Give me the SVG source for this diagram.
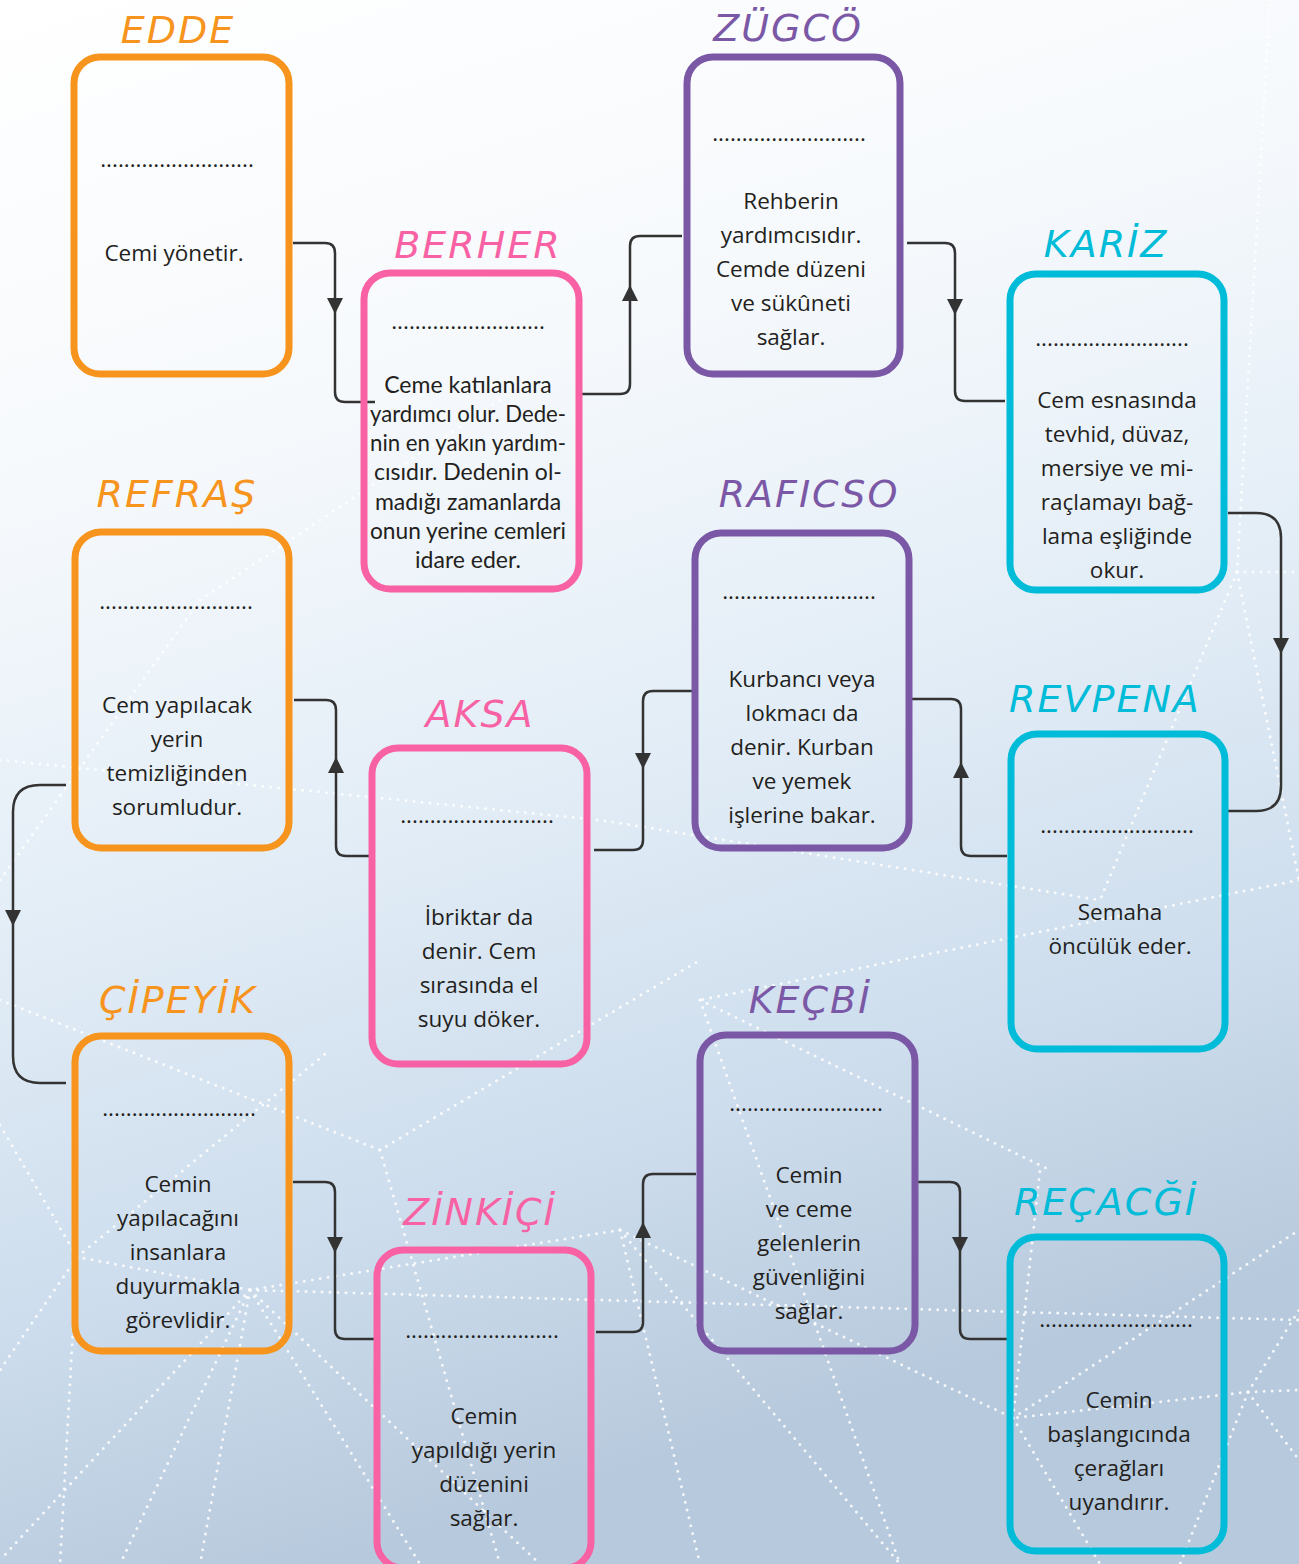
<svg xmlns="http://www.w3.org/2000/svg" xmlns:xlink="http://www.w3.org/1999/xlink" width="1299" height="1564" viewBox="0 0 1299 1564">
<defs>
<linearGradient id="bg" x1="0" y1="0" x2="0.25" y2="1">
<stop offset="0" stop-color="#ffffff"/>
<stop offset="0.3" stop-color="#f6f9fc"/>
<stop offset="0.55" stop-color="#e4eef7"/>
<stop offset="0.8" stop-color="#cddded"/>
<stop offset="1" stop-color="#b7c9dc"/>
</linearGradient>
<path id="ad" d="M-8,-16 L8,-16 L0,0 Z"/>
<style>
.box{fill:none;stroke-width:7;}
.o{stroke:#f7941d;} .p{stroke:#f862a4;} .v{stroke:#7b58a6;} .c{stroke:#00bcd8;}
.to{fill:#f7941d;} .tp{fill:#f862a4;} .tv{fill:#7b58a6;} .tc{fill:#00bcd8;}
.title{font-family:"DejaVu Sans",sans-serif;font-style:oblique;font-size:38px;text-anchor:middle;letter-spacing:2px;}
.t{font-family:"Open Sans","Liberation Sans",sans-serif;font-size:22.5px;fill:#231f20;text-anchor:middle;}
.n{font-family:Lato,"Liberation Sans",sans-serif;font-size:23px;fill:#231f20;text-anchor:middle;}
.dots{font-family:"Open Sans","Liberation Sans",sans-serif;font-size:22.5px;fill:#231f20;text-anchor:middle;}
.con{fill:none;stroke:#333333;stroke-width:2.5;}
.ah{fill:#333333;}
.net{fill:none;stroke:#ffffff;stroke-width:3;stroke-dasharray:0 8;stroke-linecap:round;opacity:0.85;}
</style>
</defs>
<rect x="0" y="0" width="1299" height="1564" fill="url(#bg)"/>
<g id="network">
<path class="net" d="M0,1125 L77,1257 L250,1290 L620,1230 L1013,1418 L1248,1392 L1299,1390"/>
<path class="net" d="M77,1257 L0,1370"/>
<path class="net" d="M77,1257 L60,1564"/>
<path class="net" d="M77,1257 L330,1050"/>
<path class="net" d="M250,1290 L200,1564"/>
<path class="net" d="M250,1290 L120,1564"/>
<path class="net" d="M250,1290 L420,1564"/>
<path class="net" d="M250,1290 L540,1564"/>
<path class="net" d="M250,1290 L0,1560"/>
<path class="net" d="M250,1290 L1299,1320"/>
<path class="net" d="M1013,1418 L1299,1230"/>
<path class="net" d="M1013,1418 L1040,1170"/>
<path class="net" d="M1013,1418 L1100,1564"/>
<path class="net" d="M1248,1392 L1299,1460"/>
<path class="net" d="M1248,1392 L1180,1564"/>
<path class="net" d="M1248,1392 L1299,1310"/>
<path class="net" d="M620,1230 L700,1564"/>
<path class="net" d="M620,1230 L900,1564"/>
<path class="net" d="M0,1000 L380,1150 L700,960"/>
<path class="net" d="M380,1150 L500,1564"/>
<path class="net" d="M0,880 L200,600 L500,400"/>
<path class="net" d="M1237,572 L1299,572"/>
<path class="net" d="M1237,572 L1270,0"/>
<path class="net" d="M1237,572 L1299,880"/>
<path class="net" d="M1237,572 L1100,900"/>
<path class="net" d="M1299,880 L700,1000"/>
<path class="net" d="M700,1000 L900,1564"/>
<path class="net" d="M700,1000 L1050,1170"/>
<path class="net" d="M0,760 L600,820 L1100,900"/>
</g>
<g id="connectors">
<path class="con" d="M293,243 H325 Q335,243 335,253 V392 Q335,402 345,402 H375"/>
<use href="#ad" class="ah" transform="translate(335,314)"/>
<path class="con" d="M582,394 H620 Q630,394 630,384 V246 Q630,236 640,236 H682"/>
<use href="#ad" class="ah" transform="translate(630,285) rotate(180)"/>
<path class="con" d="M907,243 H945 Q955,243 955,253 V391 Q955,401 965,401 H1005"/>
<use href="#ad" class="ah" transform="translate(955,315)"/>
<path class="con" d="M1228,513 H1256 Q1281,513 1281,538 V786 Q1281,811 1256,811 H1228"/>
<use href="#ad" class="ah" transform="translate(1281,654)"/>
<path class="con" d="M912,699 H951 Q961,699 961,709 V846 Q961,856 971,856 H1007"/>
<use href="#ad" class="ah" transform="translate(961,762) rotate(180)"/>
<path class="con" d="M697,691 H653 Q643,691 643,701 V840 Q643,850 633,850 H594"/>
<use href="#ad" class="ah" transform="translate(643,769)"/>
<path class="con" d="M375,856 H346 Q336,856 336,846 V710 Q336,700 326,700 H294"/>
<use href="#ad" class="ah" transform="translate(336,757) rotate(180)"/>
<path class="con" d="M66,785 H40 Q13,785 13,812 V1056 Q13,1083 40,1083 H66"/>
<use href="#ad" class="ah" transform="translate(13,926)"/>
<path class="con" d="M293,1182 H325 Q335,1182 335,1192 V1329 Q335,1339 345,1339 H377"/>
<use href="#ad" class="ah" transform="translate(335,1253)"/>
<path class="con" d="M596,1332 H633 Q643,1332 643,1322 V1184 Q643,1174 653,1174 H696"/>
<use href="#ad" class="ah" transform="translate(643,1222) rotate(180)"/>
<path class="con" d="M912,1182 H950 Q960,1182 960,1192 V1329 Q960,1339 970,1339 H1007"/>
<use href="#ad" class="ah" transform="translate(960,1253)"/>
</g>
<g id="edde">
<text class="title to" x="178" y="43">EDDE</text>
<rect class="box o" x="74" y="57" width="215" height="317" rx="26"/>
<text class="dots" x="177" y="167">..........................</text>
<text class="t" x="174" y="261">Cemi yönetir.</text>
</g>
<g id="berher">
<text class="title tp" x="478" y="258">BERHER</text>
<rect class="box p" x="364" y="273" width="215" height="316" rx="26"/>
<text class="dots" x="468" y="329">..........................</text>
<text class="n"><tspan x="468" y="393">Ceme katılanlara</tspan><tspan x="468" y="422" textLength="196" lengthAdjust="spacingAndGlyphs">yardımcı olur. Dede-</tspan><tspan x="468" y="451" textLength="196" lengthAdjust="spacingAndGlyphs">nin en yakın yardım-</tspan><tspan x="468" y="480">cısıdır. Dedenin ol-</tspan><tspan x="468" y="510">madığı zamanlarda</tspan><tspan x="468" y="539" textLength="196" lengthAdjust="spacingAndGlyphs">onun yerine cemleri</tspan><tspan x="468" y="568">idare eder.</tspan></text>
</g>
<g id="zugco">
<text class="title tv" x="788" y="41">ZÜGCÖ</text>
<rect class="box v" x="687" y="57" width="213" height="317" rx="26"/>
<text class="dots" x="789" y="141">..........................</text>
<text class="t"><tspan x="791" y="209">Rehberin</tspan><tspan x="791" y="243">yardımcısıdır.</tspan><tspan x="791" y="277">Cemde düzeni</tspan><tspan x="791" y="311">ve sükûneti</tspan><tspan x="791" y="345">sağlar.</tspan></text>
</g>
<g id="kariz">
<text class="title tc" x="1106" y="257">KARİZ</text>
<rect class="box c" x="1010" y="274" width="214" height="316" rx="26"/>
<text class="dots" x="1112" y="346">..........................</text>
<text class="t"><tspan x="1117" y="408">Cem esnasında</tspan><tspan x="1117" y="442">tevhid, düvaz,</tspan><tspan x="1117" y="476">mersiye ve mi-</tspan><tspan x="1117" y="510">raçlamayı bağ-</tspan><tspan x="1117" y="544">lama eşliğinde</tspan><tspan x="1117" y="578">okur.</tspan></text>
</g>
<g id="refras">
<text class="title to" x="177" y="507">REFRAŞ</text>
<rect class="box o" x="75" y="532" width="214" height="316" rx="26"/>
<text class="dots" x="176" y="609">..........................</text>
<text class="t"><tspan x="177" y="713">Cem yapılacak</tspan><tspan x="177" y="747">yerin</tspan><tspan x="177" y="781">temizliğinden</tspan><tspan x="177" y="815">sorumludur.</tspan></text>
</g>
<g id="aksa">
<text class="title tp" x="480" y="727">AKSA</text>
<rect class="box p" x="372" y="748" width="215" height="316" rx="26"/>
<text class="dots" x="477" y="823">..........................</text>
<text class="t"><tspan x="479" y="925">İbriktar da</tspan><tspan x="479" y="959">denir. Cem</tspan><tspan x="479" y="993">sırasında el</tspan><tspan x="479" y="1027">suyu döker.</tspan></text>
</g>
<g id="raficso">
<text class="title tv" x="809" y="507">RAFICSO</text>
<rect class="box v" x="695" y="533" width="214" height="315" rx="26"/>
<text class="dots" x="799" y="599">..........................</text>
<text class="t"><tspan x="802" y="687">Kurbancı veya</tspan><tspan x="802" y="721">lokmacı da</tspan><tspan x="802" y="755">denir. Kurban</tspan><tspan x="802" y="789">ve yemek</tspan><tspan x="802" y="823">işlerine bakar.</tspan></text>
</g>
<g id="revpena">
<text class="title tc" x="1105" y="712">REVPENA</text>
<rect class="box c" x="1011" y="734" width="214" height="315" rx="26"/>
<text class="dots" x="1117" y="833">..........................</text>
<text class="t"><tspan x="1120" y="920">Semaha</tspan><tspan x="1120" y="954">öncülük eder.</tspan></text>
</g>
<g id="cipeyik">
<text class="title to" x="178" y="1013">ÇİPEYİK</text>
<rect class="box o" x="75" y="1036" width="214" height="315" rx="26"/>
<text class="dots" x="179" y="1116">..........................</text>
<text class="t"><tspan x="178" y="1192">Cemin</tspan><tspan x="178" y="1226">yapılacağını</tspan><tspan x="178" y="1260">insanlara</tspan><tspan x="178" y="1294">duyurmakla</tspan><tspan x="178" y="1328">görevlidir.</tspan></text>
</g>
<g id="zinkici">
<text class="title tp" x="480" y="1225">ZİNKİÇİ</text>
<rect class="box p" x="377" y="1250" width="214" height="318" rx="26"/>
<text class="dots" x="482" y="1338">..........................</text>
<text class="t"><tspan x="484" y="1424">Cemin</tspan><tspan x="484" y="1458">yapıldığı yerin</tspan><tspan x="484" y="1492">düzenini</tspan><tspan x="484" y="1526">sağlar.</tspan></text>
</g>
<g id="kecbi">
<text class="title tv" x="810" y="1013">KEÇBİ</text>
<rect class="box v" x="700" y="1035" width="215" height="316" rx="26"/>
<text class="dots" x="806" y="1111">..........................</text>
<text class="t"><tspan x="809" y="1183">Cemin</tspan><tspan x="809" y="1217">ve ceme</tspan><tspan x="809" y="1251">gelenlerin</tspan><tspan x="809" y="1285">güvenliğini</tspan><tspan x="809" y="1319">sağlar.</tspan></text>
</g>
<g id="recacgi">
<text class="title tc" x="1106" y="1215">REÇACĞİ</text>
<rect class="box c" x="1010" y="1237" width="214" height="314" rx="26"/>
<text class="dots" x="1116" y="1327">..........................</text>
<text class="t"><tspan x="1119" y="1408">Cemin</tspan><tspan x="1119" y="1442">başlangıcında</tspan><tspan x="1119" y="1476">çerağları</tspan><tspan x="1119" y="1510">uyandırır.</tspan></text>
</g>
</svg>
